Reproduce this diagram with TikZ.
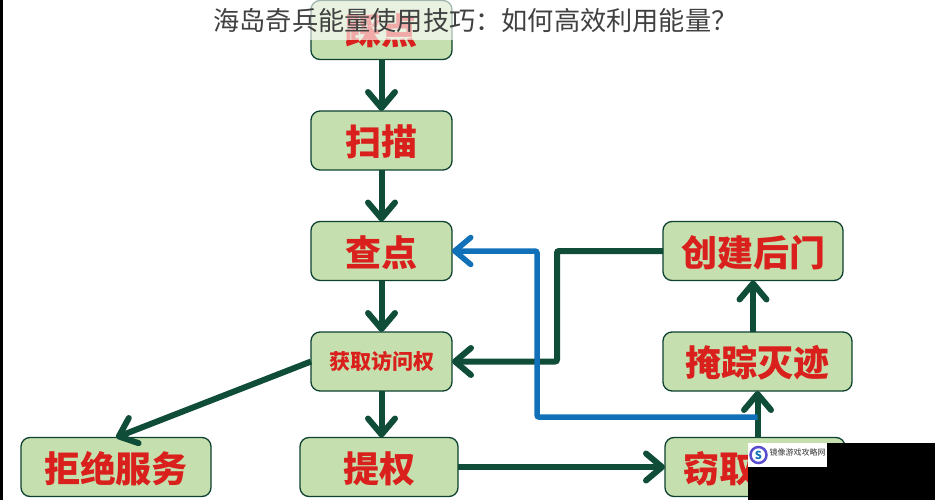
\documentclass[tikz,border=0pt]{standalone}
\usepackage{fontspec}
\setmainfont{Noto Sans CJK SC}
\usetikzlibrary{arrows.meta,positioning}
\definecolor{boxgreen}{HTML}{C6DFAE}
\definecolor{darkline}{HTML}{0F4D38}
\definecolor{blueline}{HTML}{1070B8}
\definecolor{redtext}{HTML}{D9201C}
\tikzset{
  stepbox/.style={draw=darkline!85!black,line width=1.3pt,fill=boxgreen,rounded corners=9pt,
    minimum height=59pt,outer sep=0pt,text=redtext,text height=34pt,text depth=4pt,
    font=\fontsize{36}{36}\bfseries},
  link/.style={line width=6pt,color=darkline,-{Straight Barb[length=16pt,width=27pt,round]}},
}
\begin{document}
\begin{tikzpicture}[x=1pt,y=-1pt]
\useasboundingbox (0,0) rectangle (935,500);
  % left column
  \node[stepbox,minimum width=141pt] (recon) at (381.5,30) {踩点};
  \node[stepbox,minimum width=141pt] (scan) at (381.5,140.5) {扫描};
  \node[stepbox,minimum width=141pt] (enum) at (381.5,251) {查点};
  \node[stepbox,minimum width=141pt,text height=19pt,text depth=2.5pt,font=\fontsize{21}{21}\bfseries] (access) at (381.5,361.5) {获取访问权};
  % bottom row
  \node[stepbox,minimum width=190pt] (dos) at (116,467) {拒绝服务};
  \node[stepbox,minimum width=158pt] (priv) at (379,467) {提权};
  \node[stepbox,minimum width=180pt,text width=144pt,align=left] (steal) at (755,467) {窃取};
  % right column
  \node[stepbox,minimum width=189pt] (hide) at (757.5,361.5) {掩踪灭迹};
  \node[stepbox,minimum width=180pt] (backdoor) at (753,251) {创建后门};
  \coordinate (darkbend) at (557,300);
  \coordinate (bluebend) at (537,300);
  \coordinate (bluestart) at (757.5,417);
  \draw[link] (recon) -- (scan);
  \draw[link] (scan) -- (enum);
  \draw[link] (enum) -- (access);
  \draw[link] (access) -- (priv.north -| access);
  \draw[link] (access.west) -- (dos.north);
  \draw[link] (priv.east) -- (steal.west);
  \draw[link] (steal.north -| hide) -- (hide.south);
  \draw[link] (hide.north -| backdoor) -- (backdoor.south);
  \draw[link,rounded corners=2pt] (backdoor.west) -| (darkbend) |- (access.east);
  \draw[link,line width=5.5pt,color=blueline,rounded corners=2pt] (bluestart) -| (bluebend) |- (enum.east);
  % title and the patches over the corner
  \node[fill=white,fill opacity=.62,minimum width=935pt,minimum height=40pt,inner sep=0pt] (band) at (467.5,20) {};
  \node[text=black!75,inner sep=0pt,font=\fontsize{26.2}{27}\selectfont] (title) at (475.5,21) {海岛奇兵能量使用技巧：如何高效利用能量？};
  \fill[black] (0,0) rectangle (3,500);
  \fill[black] (748,467) rectangle (935,500) (827,443) rectangle (935,467);
  \node[fill=white,minimum width=79pt,minimum height=24pt,inner sep=0pt,anchor=north west] (mark) at (748,443) {};
  \node[draw=blueline!70!magenta,line width=2.5pt,circle,minimum size=16pt,inner sep=0pt,text=blueline,
    font=\fontsize{11}{11}\bfseries] (logo) at (758.5,455) {S};
  \node[anchor=west,inner sep=0pt,text=black!80,font=\fontsize{8}{8}\selectfont] (marktext) at (769.5,452.5) {镜像游戏攻略网};
\end{tikzpicture}
\end{document}
